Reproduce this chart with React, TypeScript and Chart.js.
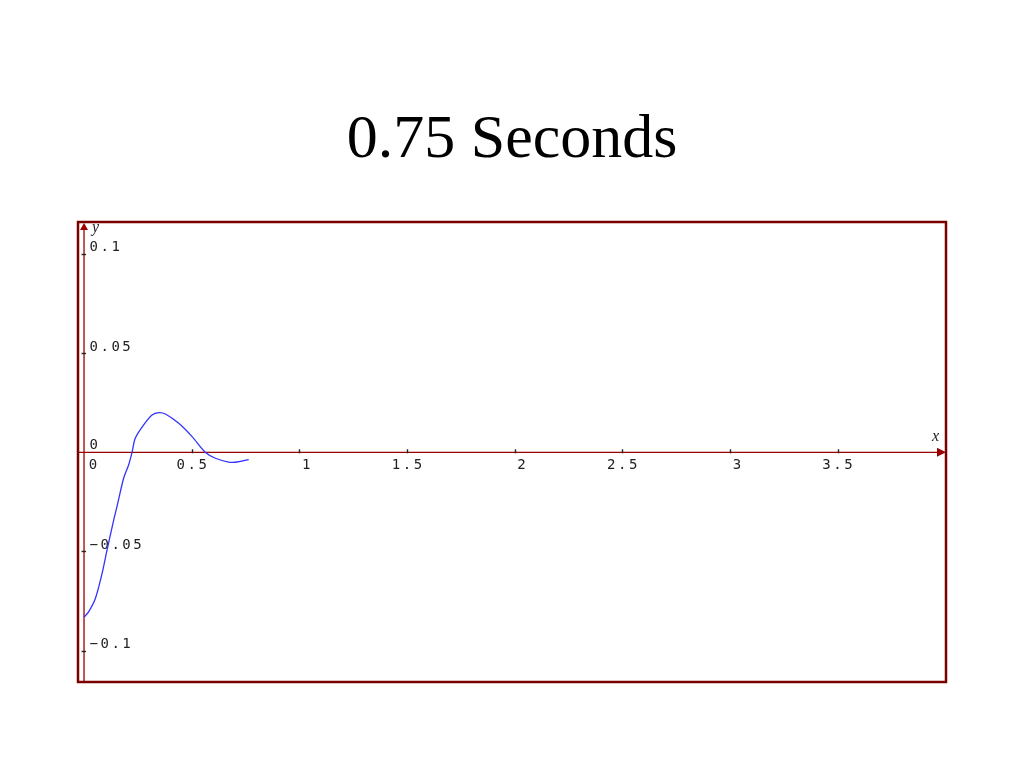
import React, { useEffect, useRef } from "react";
import { Chart, registerables } from "chart.js";

Chart.register(...registerables);

// ---- data ----
const titleText = "0.75 Seconds";
const timeValues = [
  0, 0.022, 0.053, 0.084, 0.107, 0.138, 0.153, 0.184, 0.207, 0.223, 0.238,
  0.277, 0.316, 0.347, 0.378, 0.44, 0.502, 0.563, 0.61, 0.672, 0.711, 0.765,
];
const displacementValues = [
  -0.0831, -0.0803, -0.0736, -0.061, -0.0492, -0.0341, -0.0274, -0.0131,
  -0.0064, 0, 0.0071, 0.0138, 0.0188, 0.02, 0.0193, 0.0146, 0.0079, 0,
  -0.003, -0.0049, -0.0049, -0.0037,
];
const xTickValues = [0, 0.5, 1, 1.5, 2, 2.5, 3, 3.5];
const xTickLabels = ["0", "0.5", "1", "1.5", "2", "2.5", "3", "3.5"];
const yTickValues = [0.1, 0.05, 0, -0.05, -0.1];
const yTickLabels = ["0.1", "0.05", "0", "\u22120.05", "\u22120.1"];
const xAxisRange = [-0.028, 4.004];
const yAxisRange = [-0.1158, 0.1161];
const xAxisName = "x";
const yAxisName = "y";

const AXIS_COLOR = "#990000";
const BORDER_COLOR = "#7a0000";
const LABEL_COLOR = "#222";
const LABEL_FONT = '14px "DejaVu Sans Mono", "Liberation Mono", monospace';
const SPACING = 2.5;

function drawSpaced(ctx: CanvasRenderingContext2D, text: string, x: number, y: number, align: "left" | "center") {
  const anyCtx = ctx as any;
  const supports = "letterSpacing" in anyCtx;
  if (supports) anyCtx.letterSpacing = SPACING + "px";
  ctx.textAlign = "left";
  let w = ctx.measureText(text).width;
  if (supports) w -= SPACING;
  let sx = align === "center" ? x - w / 2 : x;
  if (supports) {
    ctx.fillText(text, sx, y);
    anyCtx.letterSpacing = "0px";
  } else {
    for (const ch of text) {
      ctx.fillText(ch, sx, y);
      sx += ctx.measureText(ch).width + SPACING;
    }
  }
}

const maplePlugin = {
  id: "mapleAxes",
  beforeDatasetsDraw(chart: any) {
    const { ctx, chartArea: a, scales } = chart;
    const xs = scales.x;
    const ys = scales.y;
    const ox = xs.getPixelForValue(0);
    const oy = ys.getPixelForValue(0);
    ctx.save();

    // title
    ctx.fillStyle = "#000";
    ctx.font = '62px "Liberation Serif", "Times New Roman", serif';
    ctx.textAlign = "center";
    ctx.textBaseline = "alphabetic";
    ctx.fillText(titleText, (a.left + a.right) / 2, 157);

    // axes lines
    ctx.strokeStyle = AXIS_COLOR;
    ctx.lineWidth = 1.3;
    ctx.beginPath();
    ctx.moveTo(a.left, oy);
    ctx.lineTo(a.right - 6, oy);
    ctx.stroke();
    ctx.beginPath();
    ctx.moveTo(ox, a.bottom);
    ctx.lineTo(ox, a.top + 5);
    ctx.stroke();

    // arrow heads
    ctx.fillStyle = AXIS_COLOR;
    ctx.beginPath();
    ctx.moveTo(a.right, oy);
    ctx.lineTo(a.right - 9, oy - 4.5);
    ctx.lineTo(a.right - 9, oy + 4.5);
    ctx.closePath();
    ctx.fill();
    ctx.beginPath();
    ctx.moveTo(ox, a.top + 1);
    ctx.lineTo(ox - 4, a.top + 8);
    ctx.lineTo(ox + 4, a.top + 8);
    ctx.closePath();
    ctx.fill();

    // tick marks
    ctx.strokeStyle = "#222";
    ctx.lineWidth = 1.4;
    xTickValues.forEach((v) => {
      if (v === 0) return;
      const px = Math.round(xs.getPixelForValue(v)) + 0.5;
      ctx.beginPath();
      ctx.moveTo(px, oy - 3);
      ctx.lineTo(px, oy + 1);
      ctx.stroke();
    });
    yTickValues.forEach((v) => {
      if (v === 0) return;
      const py = Math.round(ys.getPixelForValue(v)) + 0.5;
      ctx.beginPath();
      ctx.moveTo(ox - 2.5, py);
      ctx.lineTo(ox + 2, py);
      ctx.stroke();
    });

    // tick labels
    ctx.fillStyle = LABEL_COLOR;
    ctx.font = LABEL_FONT;
    ctx.textBaseline = "alphabetic";
    xTickValues.forEach((v, i) => {
      const label = xTickLabels[i];
      const px = xs.getPixelForValue(v);
      const cx = label.length === 1 ? px + (v === 0 ? 9 : 7) : px;
      drawSpaced(ctx, label, cx, oy + 17, "center");
    });
    yTickValues.forEach((v, i) => {
      const label = yTickLabels[i];
      const py = ys.getPixelForValue(v);
      drawSpaced(ctx, label, ox + 5.5, py - (v === 0 ? 3 : 2.5), "left");
    });

    // axis names
    ctx.fillStyle = "#222";
    ctx.font = 'italic 16px "Liberation Serif", "Times New Roman", serif';
    ctx.textAlign = "left";
    ctx.fillText(yAxisName, ox + 8, a.top + 10);
    ctx.fillText(xAxisName, a.right - 14, oy - 11);

    ctx.restore();
  },
  afterDraw(chart: any) {
    const { ctx, chartArea: a } = chart;
    ctx.save();
    ctx.strokeStyle = BORDER_COLOR;
    ctx.lineWidth = 2.5;
    ctx.strokeRect(a.left, a.top, a.right - a.left, a.bottom - a.top);
    ctx.restore();
  },
};

export default function App() {
  const canvasRef = useRef<HTMLCanvasElement | null>(null);

  useEffect(() => {
    const canvas = canvasRef.current;
    if (!canvas) return;
    const points = timeValues.map((t, i) => ({ x: t, y: displacementValues[i] }));
    const chart = new Chart(canvas, {
      type: "line",
      data: {
        datasets: [
          {
            data: points,
            borderColor: "#3333ff",
            borderWidth: 1.3,
            pointRadius: 0,
            fill: false,
            tension: 0.3,
          },
        ],
      },
      options: {
        responsive: false,
        animation: false,
        devicePixelRatio: 1,
        layout: { padding: { left: 78, top: 222, right: 78, bottom: 86 } },
        plugins: {
          legend: { display: false },
          tooltip: { enabled: false },
          title: { display: false },
        },
        scales: {
          x: { type: "linear", display: false, min: xAxisRange[0], max: xAxisRange[1] },
          y: { type: "linear", display: false, min: yAxisRange[0], max: yAxisRange[1] },
        },
      },
      plugins: [maplePlugin],
    });
    return () => chart.destroy();
  }, []);

  return (
    <div style={{ position: "absolute", left: 0, top: 0, width: 1024, height: 768, background: "#fff" }}>
      <canvas ref={canvasRef} width={1024} height={768} style={{ display: "block" }} />
    </div>
  );
}
